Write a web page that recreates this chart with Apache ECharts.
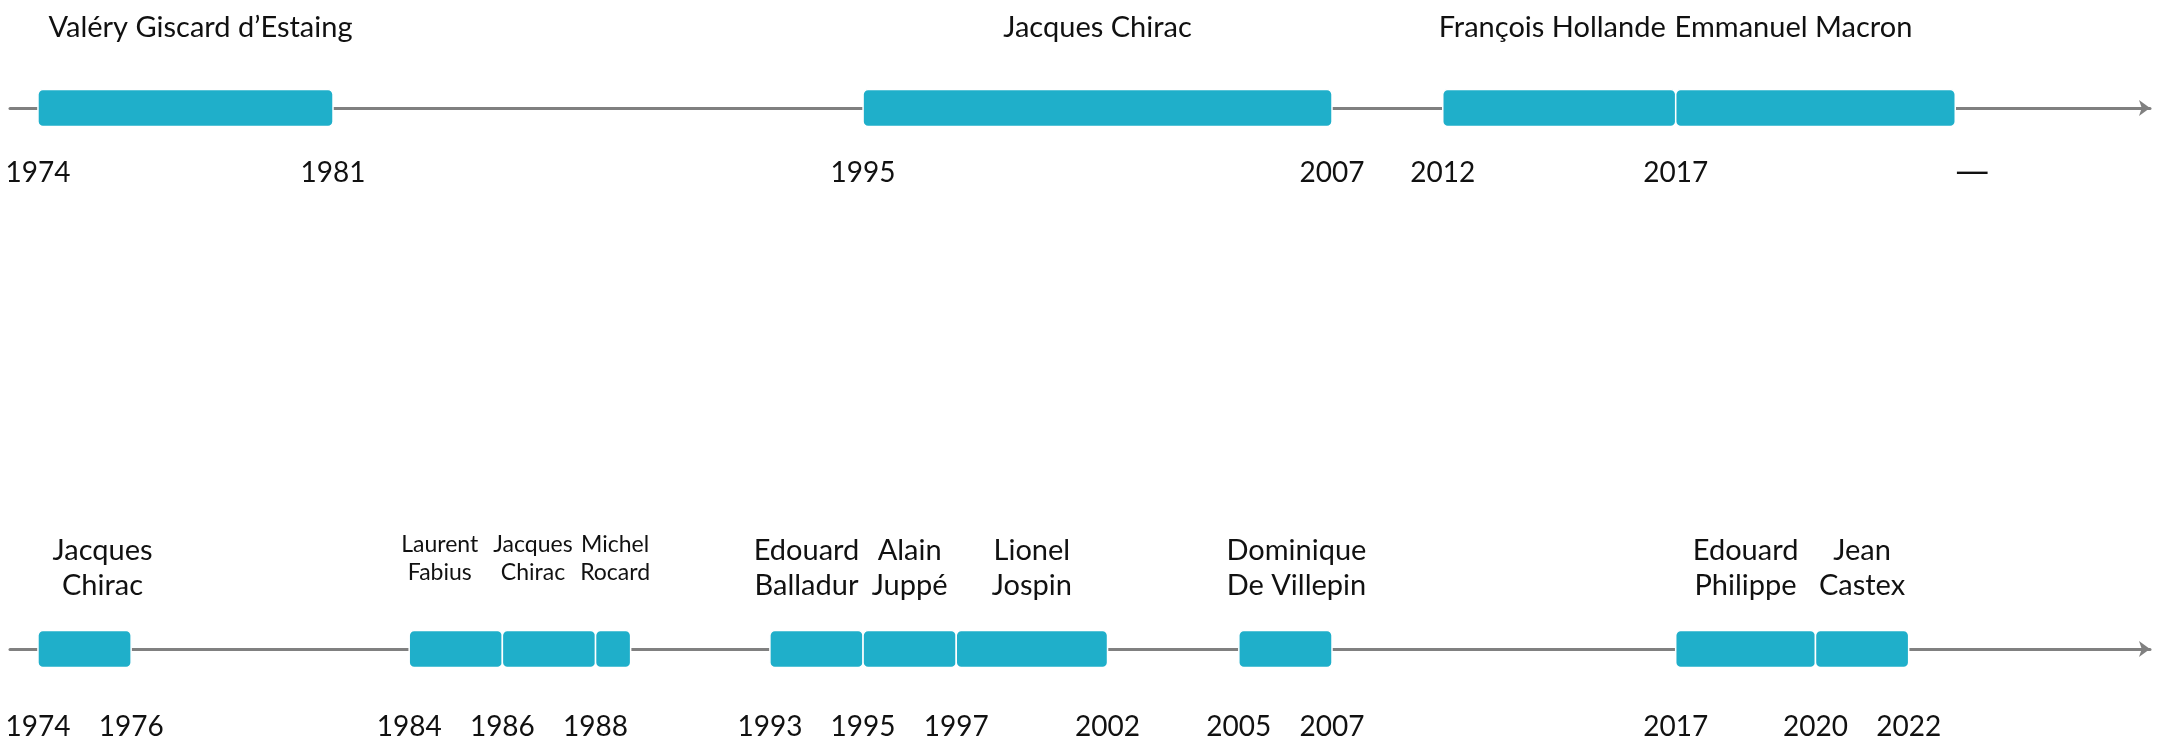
<!DOCTYPE html>
<html>
<head>
<meta charset="utf-8">
<script src="https://cdn.jsdelivr.net/npm/echarts@6/dist/echarts.min.js"></script>
<style>
html,body{margin:0;padding:0;background:#fff;}
#chart{width:2158px;height:744px;}
</style>
</head>
<body>
<div id="chart"></div>
<script>
// ---------- data ----------
const presidentNames = ['Valéry Giscard d’Estaing', 'Jacques Chirac', 'François Hollande', 'Emmanuel Macron'];
const presidentStart = [1974, 1995, 2012, 2017];
const presidentEnd   = [1981, 2007, 2017, 2023];
const presidentTickValues = [1974, 1981, 1995, 2007, 2012, 2017, 2023];
const presidentTickLabels = ['1974', '1981', '1995', '2007', '2012', '2017', '—'];

const ministerNames = ['Jacques\nChirac', 'Laurent\nFabius', 'Jacques\nChirac', 'Michel\nRocard',
  'Edouard\nBalladur', 'Alain\nJuppé', 'Lionel\nJospin', 'Dominique\nDe Villepin',
  'Edouard\nPhilippe', 'Jean\nCastex'];
const ministerStart = [1974, 1984, 1986, 1988, 1993, 1995, 1997, 2005, 2017, 2020];
const ministerEnd   = [1976, 1986, 1988, 1991, 1995, 1997, 2002, 2007, 2020, 2022];
const ministerTickValues = [1974, 1976, 1984, 1986, 1988, 1993, 1995, 1997, 2002, 2005, 2007, 2017, 2020, 2022];
const ministerTickLabels = ministerTickValues.map(String);

// ---------- layout / style ----------
const FONT = 'Lato';
const BAR_COLOR = '#1FAFCA';
const AXIS_COLOR = '#808080';
const TEXT_COLOR = '#111111';
const BAR_H = 37;
// name-label horizontal nudges (px) to follow the original hand placement
const presidentLabelDx = {0: 15, 2: -7, 3: -22};
const ministerLabelDx = {0: 18, 1: -16, 2: -16, 3: 2, 4: -10, 7: 11};
// crowded minister labels drawn with a smaller font
const compactLabels = [1, 2, 3];
// the original timeline compresses some spans of years
const axisBreaks = [
  {start: 1977, end: 1980, gap: 2.333},
  {start: 1981.5, end: 1983.5, gap: 0.635},
  {start: 1988.3, end: 1990.7, gap: 0.153},
  {start: 1991.4, end: 1992.6, gap: 2.189},
  {start: 1998, end: 2001, gap: 1.247},
  {start: 2003, end: 2004, gap: 0.818},
  {start: 2008, end: 2011, gap: 0.377}
];
const X_MIN = 1973.4, X_MAX = 2027.18;
const GRID_L = 10, GRID_R = 8;
const TOP_AXIS_Y = 108, BOTTOM_AXIS_Y = 649;

function dataXAxis(gridIndex, ticks, labels, margin) {
  return {
    type: 'value', gridIndex, min: X_MIN, max: X_MAX,
    breaks: axisBreaks.map(b => Object.assign({}, b)),
    breakArea: {show: false},
    axisLine: {show: false, onZero: false},
    axisTick: {show: false},
    splitLine: {show: false},
    axisLabel: {
      show: true, customValues: ticks,
      formatter: v => {
        const i = ticks.indexOf(v);
        if (i < 0) return '';
        return labels[i] === '—' ? '{dash|—}' : labels[i];
      },
      fontFamily: FONT, fontSize: 28, lineHeight: 28, color: TEXT_COLOR, margin,
      rich: {dash: {fontFamily: 'DejaVu Sans', fontSize: 34, lineHeight: 28, color: TEXT_COLOR,
        padding: [0, 0, 0, 34]}}
    }
  };
}
function lineXAxis(gridIndex) {
  return {
    type: 'value', gridIndex, min: X_MIN, max: X_MAX,
    axisLine: {show: true, onZero: false, symbol: ['none', 'arrow'], symbolSize: [12, 11],
      lineStyle: {color: AXIS_COLOR, width: 3}},
    axisTick: {show: false}, axisLabel: {show: false}, splitLine: {show: false}
  };
}
function hiddenYAxis(gridIndex) {
  return {type: 'value', gridIndex, min: 0, max: 1, show: false};
}

function makeRender(names, labelDx, compact) {
  return function (params, api) {
    const s = api.value(0), e = api.value(1);
    const p0 = api.coord([s, 0]), p1 = api.coord([e, 0]);
    const idx = params.dataIndex;
    const isCompact = compact.includes(idx);
    const dx = labelDx[idx] || 0;
    const top = p0[1] - BAR_H / 2;
    return {
      type: 'group',
      children: [
        {type: 'rect', shape: {x: p0[0], y: top, width: p1[0] - p0[0], height: BAR_H, r: 5},
          style: {fill: BAR_COLOR, stroke: '#ffffff', lineWidth: 1.5}},
        {type: 'text', x: (p0[0] + p1[0]) / 2 + dx,
          y: top - (isCompact ? 72 : 62),
          style: {text: names[idx], fill: TEXT_COLOR, fontFamily: FONT,
            fontSize: isCompact ? 23 : 29, lineHeight: isCompact ? 28 : 35,
            align: 'center', verticalAlign: 'middle'}}
      ]
    };
  };
}

const presData = presidentStart.map((s, i) => [s, presidentEnd[i]]);
const minData = ministerStart.map((s, i) => [s, ministerEnd[i]]);

const gridBase = {left: GRID_L, right: GRID_R, outerBoundsMode: 'none', containLabel: false};
const chart = echarts.init(document.getElementById('chart'), null, {renderer: 'canvas'});
chart.setOption({
  animation: false,
  backgroundColor: '#ffffff',
  grid: [
    Object.assign({top: 0, height: TOP_AXIS_Y}, gridBase),
    Object.assign({top: 400, height: BOTTOM_AXIS_Y - 400}, gridBase),
    Object.assign({top: 0, height: TOP_AXIS_Y}, gridBase),
    Object.assign({top: 400, height: BOTTOM_AXIS_Y - 400}, gridBase)
  ],
  xAxis: [
    dataXAxis(0, presidentTickValues, presidentTickLabels, 51),
    dataXAxis(1, ministerTickValues, ministerTickLabels, 64),
    lineXAxis(2),
    lineXAxis(3)
  ],
  yAxis: [hiddenYAxis(0), hiddenYAxis(1), hiddenYAxis(2), hiddenYAxis(3)],
  series: [
    {type: 'custom', xAxisIndex: 0, yAxisIndex: 0,
      renderItem: makeRender(presidentNames, presidentLabelDx, []),
      encode: {x: [0, 1]}, data: presData, clip: false, z: 3},
    {type: 'custom', xAxisIndex: 1, yAxisIndex: 1,
      renderItem: makeRender(ministerNames, ministerLabelDx, compactLabels),
      encode: {x: [0, 1]}, data: minData, clip: false, z: 3}
  ]
});
</script>
</body>
</html>
